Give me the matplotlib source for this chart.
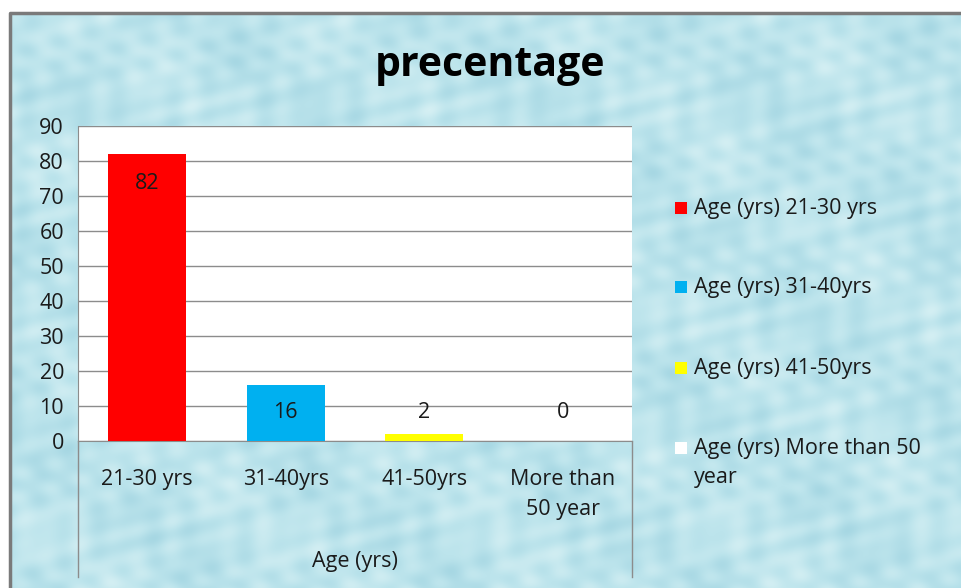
import numpy as np
import matplotlib
matplotlib.use("Agg")
import matplotlib.pyplot as plt
from matplotlib.patches import Rectangle
from matplotlib.colors import LinearSegmentedColormap

# age groups and their share (%)
categories = ["21-30 yrs", "31-40yrs", "41-50yrs", "More than\n50 year"]
values = [82, 16, 2, 0]
legend_labels = ["Age (yrs) 21-30 yrs", "Age (yrs) 31-40yrs",
                 "Age (yrs) 41-50yrs", "Age (yrs) More than 50\nyear"]
bar_colors = ["#ff0000", "#00b0f0", "#ffff00", "#ffffff"]
y_ticks = list(range(0, 100, 10))

plt.rcParams["font.family"] = ["Open Sans", "DejaVu Sans"]
text_color = "#1a1a1a"
line_grey = "#8c8c8c"
fs = 15.5

W, H = 962, 588
fig = plt.figure(figsize=(W / 100, H / 100), dpi=100)
fig.patch.set_facecolor("white")

# chart area background: soft watery texture, framed on left/top
bg = fig.add_axes([0, 0, 1, 1], zorder=-1)
bg.axis("off")
gx, gy = np.meshgrid(np.arange(W), np.arange(H))
ripple = (np.sin(gx / 11.0 + np.sin(gy / 17.0) * 2.0) * np.cos(gy / 9.0 - gx / 23.0)
          + 0.7 * np.sin((gx + gy) / 7.0) * np.sin((gx - 2 * gy) / 15.0)
          + 0.5 * np.sin(gx / 37.0 - gy / 29.0))
water = LinearSegmentedColormap.from_list("water", ["#a6d7e3", "#bce4ec", "#d4eff3"])
bg.imshow(ripple, cmap=water, extent=(0, W, H, 0), aspect="auto",
          interpolation="bilinear")
bg.add_patch(Rectangle((0, 0), W, 13, facecolor="white", edgecolor="none"))
bg.add_patch(Rectangle((0, 0), 10, H, facecolor="white", edgecolor="none"))
bg.plot([10, 10, W], [H, 13, 13], color="#7a7a7a", linewidth=2.5)
bg.set_xlim(0, W)
bg.set_ylim(H, 0)

ax = fig.add_axes([78 / W, 1 - 441 / H, (632 - 78) / W, (441 - 126) / H])
ax.set_facecolor("white")
x = np.arange(len(categories))
ax.bar(x, values, width=0.56, color=bar_colors, zorder=3)

ax.set_xlim(-0.5, len(categories) - 0.5)
ax.set_ylim(0, 90)
ax.set_yticks(y_ticks)
ax.yaxis.grid(True, color=line_grey, linewidth=1, zorder=1)
ax.tick_params(axis="y", length=0, labelsize=fs, labelcolor=text_color, pad=10)
ax.tick_params(axis="x", length=0, labelsize=fs, labelcolor=text_color, pad=20)
ax.set_xticks(x)
ax.set_xticklabels(categories, linespacing=1.6, va="top")

for side in ["top", "right"]:
    ax.spines[side].set_visible(False)
ax.spines["left"].set_color(line_grey)
ax.spines["bottom"].set_color(line_grey)

# value labels at the inside end of each bar
for xi, v in zip(x, values):
    ax.text(xi, max(v - 8.5, 8), str(v), ha="center", va="center",
            fontsize=fs, color=text_color, zorder=4)

# category-axis side lines running down below the plot
for xp in [78, 632]:
    bg.plot([xp, xp], [441, 577], color=line_grey, linewidth=1)

bg.text(355, 562, "Age (yrs)", ha="center", va="center",
        fontsize=fs, color=text_color)

bg.text(490, 66, "precentage", ha="center", va="center",
        fontsize=29.5, fontweight="bold", color="black")

# legend: small square keys with text beside them
legend_y = [208, 287, 368, 448]
for c, lab, ly in zip(bar_colors, legend_labels, legend_y):
    bg.add_patch(Rectangle((675, ly - 6), 12, 12, facecolor=c, edgecolor="none"))
    bg.text(694, ly - 10, lab, ha="left", va="top", fontsize=fs,
            color=text_color, linespacing=1.5)

fig.savefig("out.png", dpi=100)
